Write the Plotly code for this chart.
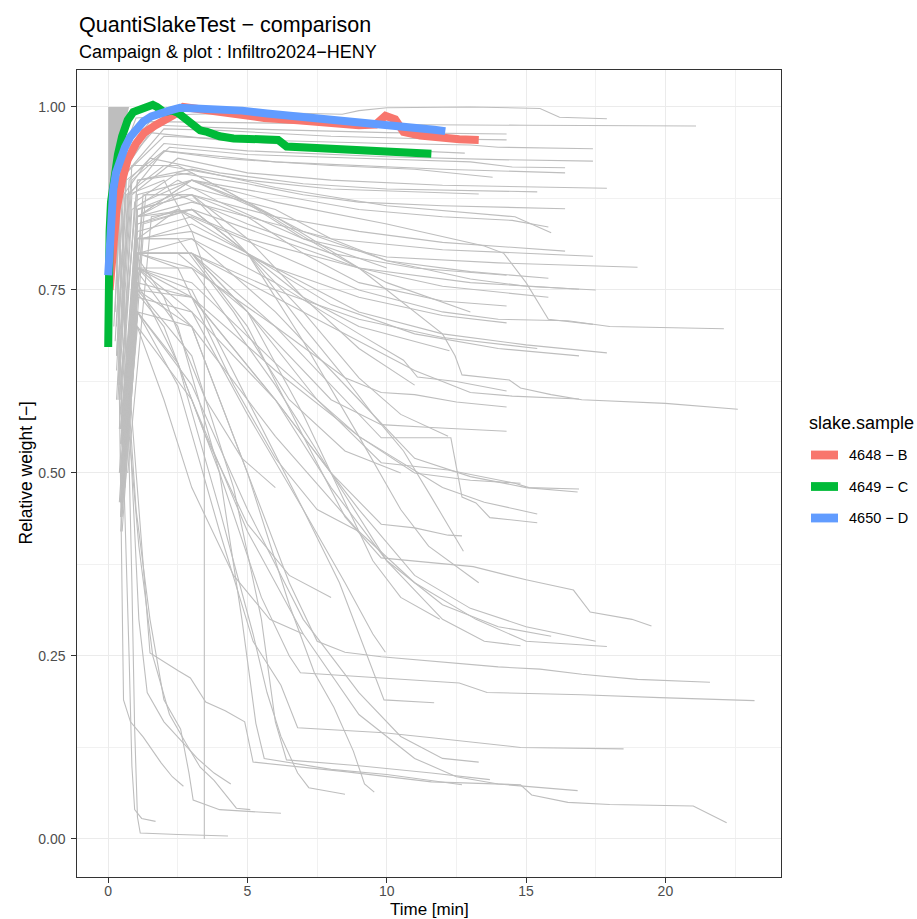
import plotly.graph_objects as go

# ---------------- highlighted samples ----------------
sample_names = ["4648 − B", "4649 − C", "4650 − D"]
sample_colors = ["#F8766D", "#00BA38", "#619CFF"]

t_4648_B = [0.05, 0.15, 0.3, 0.5, 0.7, 1.0, 1.3, 1.7, 2.1, 2.4, 2.7, 3.3, 4.4, 5.6, 6.8, 8.0, 9.0, 9.6, 9.95, 10.3, 10.6, 11.2, 11.9, 12.6, 13.3]
w_4648_B = [0.75, 0.8, 0.86, 0.9, 0.928, 0.95, 0.965, 0.975, 0.982, 0.99, 1.0, 0.997, 0.989, 0.985, 0.982, 0.978, 0.975, 0.976, 0.988, 0.983, 0.966, 0.961, 0.958, 0.956, 0.955]

t_4649_C = [0, 0, 0.05, 0.1, 0.2, 0.35, 0.5, 0.7, 0.9, 1.2, 1.6, 1.75, 2.0, 2.3, 2.5, 2.8, 3.3, 3.55, 4.0, 4.5, 5.2, 6.1, 6.4, 7.6, 8.6, 10.0, 11.6]
w_4649_C = [0.672, 0.77, 0.83, 0.87, 0.905, 0.935, 0.96, 0.982, 0.993, 0.998, 1.003, 1.0, 0.993, 0.995, 0.992, 0.983, 0.968, 0.966, 0.96, 0.957, 0.956, 0.955, 0.946, 0.944, 0.941, 0.938, 0.936]

t_4650_D = [0, 0.03, 0.07, 0.12, 0.18, 0.28, 0.43, 0.6, 0.79, 1.0, 1.26, 1.55, 1.87, 2.2, 2.58, 3.2, 3.9, 4.8, 5.7, 6.6, 7.6, 8.7, 9.8, 10.8, 11.7, 12.1]
w_4650_D = [0.77, 0.80, 0.84, 0.865, 0.887, 0.91, 0.928, 0.945, 0.959, 0.97, 0.98, 0.987, 0.992, 0.995, 0.999, 0.998, 0.997, 0.995, 0.991, 0.988, 0.985, 0.981, 0.978, 0.973, 0.969, 0.967]

# dense overlap zone at the very start (drawn as solid grey)
gray_fill_t = [0, 0, 0.75, 0.6, 0.4, 0.2, 0.08, 0.02]
gray_fill_w = [0.77, 1.0, 1.0, 0.975, 0.95, 0.9, 0.85, 0.8]

# ---------------- other samples of the campaign (grey) ----------------
gray_stable = [
    [(0.2, 0.78), (0.35, 0.92), (1.0, 0.985), (3, 0.99), (6, 0.992), (8.4, 0.99), (9.0, 0.995), (10, 0.999), (13, 1.0), (15.5, 0.998), (16.2, 0.986), (17.9, 0.984)],
    [(0.25, 0.72), (0.45, 0.93), (1.5, 0.98), (5, 0.978), (10, 0.976), (15, 0.975), (21.1, 0.974)],
    [(0.3, 0.7), (0.55, 0.92), (1.8, 0.975), (5, 0.97), (10, 0.965), (14.3, 0.963)],
    [(0.3, 0.66), (0.65, 0.91), (2, 0.97), (4, 0.968), (8, 0.96), (11, 0.957), (14.3, 0.955)],
    [(0.2, 0.7), (0.5, 0.91), (1.5, 0.965), (4, 0.955), (8, 0.945), (12.8, 0.937)],
    [(0.35, 0.68), (0.65, 0.91), (2, 0.96), (5, 0.955), (10, 0.95), (13, 0.948), (14, 0.945), (17.4, 0.943)],
    [(0.4, 0.65), (0.75, 0.9), (2, 0.95), (5, 0.94), (10, 0.932), (14, 0.928), (17.4, 0.926)],
    [(0.4, 0.62), (0.85, 0.9), (2.2, 0.945), (5, 0.935), (9, 0.93), (13, 0.925), (14.5, 0.918), (16.4, 0.917)],
    [(0.35, 0.6), (0.75, 0.88), (2, 0.94), (6, 0.925), (12, 0.915), (16.4, 0.91)],
    [(0.3, 0.66), (0.65, 0.9), (2, 0.94), (4, 0.93), (8, 0.92), (11, 0.915), (13.8, 0.904)],
    [(0.45, 0.6), (0.85, 0.88), (2.5, 0.93), (5, 0.91), (8, 0.9), (12, 0.893), (17.9, 0.889)],
    [(0.25, 0.68), (0.55, 0.88), (1.5, 0.93), (4, 0.91), (7, 0.895), (10, 0.888), (15.4, 0.884)],
    [(0.3, 0.64), (0.65, 0.88), (2, 0.92), (5, 0.9), (8, 0.888), (13.3, 0.881)],
]

gray_upper_mid = [
    [(0.45, 0.58), (0.95, 0.87), (2.5, 0.91), (5, 0.895), (7, 0.88), (9, 0.87), (12, 0.865), (16.4, 0.861)],
    [(0.5, 0.55), (1.05, 0.88), (3, 0.9), (6, 0.88), (9, 0.86), (12, 0.85), (14.5, 0.845), (15.8, 0.836)],
    [(0.4, 0.6), (1.05, 0.9), (3, 0.915), (6, 0.89), (10, 0.865), (13, 0.855), (14.6, 0.85), (15.9, 0.828)],
    [(0.5, 0.56), (1.05, 0.86), (3, 0.88), (6, 0.85), (9, 0.83), (12, 0.815), (16.4, 0.803)],
    [(0.55, 0.5), (1.05, 0.85), (3, 0.87), (5, 0.85), (8, 0.82), (12, 0.805), (17.4, 0.796)],
    [(0.4, 0.56), (0.85, 0.86), (2.5, 0.9), (4, 0.87), (7, 0.82), (10, 0.795), (14, 0.787), (19, 0.781)],
    [(0.45, 0.54), (1.05, 0.85), (2.5, 0.88), (5, 0.84), (8, 0.8), (11, 0.78), (14.3, 0.77)],
    [(0.6, 0.56), (1.25, 0.87), (3, 0.9), (5, 0.87), (7, 0.83), (10, 0.79), (13, 0.775), (15.8, 0.766)],
    [(0.5, 0.5), (1.05, 0.82), (2.5, 0.86), (5, 0.82), (9, 0.78), (13, 0.76), (16.9, 0.751)],
    [(0.45, 0.56), (1.05, 0.86), (3, 0.89), (6, 0.86), (8, 0.82), (10, 0.79), (13, 0.765), (15, 0.755), (17.5, 0.75)],
    [(0.5, 0.54), (1.05, 0.84), (3, 0.86), (6, 0.82), (9, 0.78), (12, 0.755), (15.8, 0.74)],
    [(0.6, 0.56), (1.35, 0.88), (3, 0.88), (5, 0.85), (7, 0.8), (9, 0.76), (12, 0.735), (14.3, 0.728)],
    [(0.4, 0.6), (1.05, 0.9), (3, 0.91), (5, 0.87), (8, 0.8), (10, 0.76), (13, 0.72)],
    [(0.35, 0.62), (0.85, 0.92), (2.5, 0.92), (4.5, 0.88), (7, 0.82), (10, 0.78)],
]

gray_middle = [
    [(0.5, 0.56), (1.05, 0.85), (3, 0.9), (6, 0.87), (10, 0.84), (13.5, 0.81), (14.2, 0.8), (15, 0.76), (15.8, 0.71), (17.4, 0.703)],
    [(0.5, 0.5), (1.05, 0.83), (3, 0.85), (6, 0.8), (9, 0.75), (12, 0.72), (14, 0.71), (16.5, 0.708), (18, 0.7), (22.1, 0.697)],
    [(0.45, 0.56), (1.05, 0.82), (3, 0.83), (6, 0.78), (9, 0.74), (12, 0.715), (14.3, 0.705)],
    [(0.6, 0.48), (1.25, 0.82), (3, 0.84), (6, 0.78), (9, 0.72), (12, 0.69), (15, 0.675), (17.9, 0.664)],
    [(0.45, 0.56), (1.05, 0.84), (2.5, 0.86), (5, 0.8), (8, 0.73), (11, 0.69), (14, 0.67), (16.9, 0.66)],
    [(0.5, 0.5), (1.05, 0.8), (3, 0.8), (6, 0.75), (9, 0.71), (12, 0.685), (15.4, 0.67)],
    [(0.7, 0.5), (1.55, 0.85), (3, 0.86), (5, 0.8), (7, 0.74), (9, 0.7), (12.25, 0.667)],
    [(0.45, 0.54), (1.05, 0.85), (3, 0.9), (6, 0.85), (9, 0.78), (11, 0.72), (12.0, 0.69), (12.45, 0.66), (12.7, 0.634), (14.4, 0.627), (14.8, 0.616), (15.9, 0.607), (17, 0.6), (20, 0.595), (21.5, 0.59), (22.6, 0.587)],
    [(0.5, 0.46), (1.05, 0.8), (3, 0.8), (6, 0.74), (9, 0.68), (11, 0.64), (13, 0.61), (14.5, 0.605), (16.9, 0.601)],
    [(0.5, 0.5), (1.05, 0.8), (3, 0.82), (6, 0.76), (9, 0.69), (10.6, 0.654), (11.1, 0.631), (12.5, 0.625), (14.3, 0.612)],
    [(0.5, 0.46), (1.05, 0.78), (3, 0.78), (6, 0.7), (8.5, 0.63), (9.8, 0.61), (11, 0.607), (12.5, 0.597), (14.3, 0.59)],
    [(0.45, 0.5), (1.05, 0.8), (2.5, 0.8), (5, 0.72), (8, 0.6), (9.8, 0.566), (11.6, 0.562), (14.3, 0.557)],
    [(0.5, 0.55), (1.05, 0.85), (3, 0.86), (5, 0.8), (7, 0.72), (9, 0.63), (10.5, 0.58), (12.2, 0.55)],
    [(0.6, 0.58), (1.25, 0.88), (3, 0.88), (5, 0.82), (7, 0.74), (9, 0.67), (11, 0.62)],
]

gray_lower_mid = [
    [(0.5, 0.46), (1.05, 0.8), (3, 0.8), (5, 0.72), (7.5, 0.6), (9.8, 0.514), (12.2, 0.504), (14.6, 0.486), (15.1, 0.48), (16.9, 0.478)],
    [(0.45, 0.5), (1.05, 0.82), (3, 0.82), (6, 0.72), (9, 0.6), (11, 0.52), (13, 0.495), (15, 0.48), (16.85, 0.474)],
    [(0.5, 0.44), (1.05, 0.75), (3, 0.74), (6, 0.64), (9, 0.55), (11, 0.5), (13, 0.49), (14.8, 0.486)],
    [(0.5, 0.46), (1.05, 0.78), (3, 0.76), (6, 0.65), (9, 0.55), (12, 0.48), (13.5, 0.46), (15.4, 0.444)],
    [(0.45, 0.5), (1.05, 0.8), (3, 0.8), (6, 0.7), (9.8, 0.548), (12.3, 0.548), (12.7, 0.467), (13.2, 0.459), (13.7, 0.439), (15.4, 0.432)],
    [(0.6, 0.52), (1.25, 0.84), (3, 0.86), (5, 0.8), (7, 0.7), (8.5, 0.63), (9.5, 0.58), (10.6, 0.53), (11.6, 0.467), (12.75, 0.393)],
    [(0.45, 0.42), (1.05, 0.74), (3, 0.72), (6, 0.6), (8, 0.5), (9.8, 0.43), (11, 0.425), (12.2, 0.415), (12.7, 0.414)],
    [(0.45, 0.5), (1.05, 0.82), (2.5, 0.82), (4.5, 0.72), (6.5, 0.6), (8.5, 0.53), (10.5, 0.5)],
    [(0.45, 0.5), (1.05, 0.8), (2.5, 0.78), (4.5, 0.62), (6, 0.52), (7.5, 0.45), (9, 0.42)],
    [(0.4, 0.5), (0.95, 0.8), (2, 0.74), (3.5, 0.6), (4.8, 0.52), (6, 0.48)],
    [(0.55, 0.56), (1.05, 0.86), (3, 0.88), (5, 0.8), (7, 0.68), (9, 0.55), (10.5, 0.45), (11.5, 0.4), (13.3, 0.35)],
]

gray_low = [
    [(0.5, 0.46), (1.05, 0.8), (3, 0.8), (5, 0.7), (7, 0.55), (8.5, 0.44), (9.8, 0.384), (13.1, 0.372), (15, 0.354), (16.7, 0.34), (17.3, 0.31), (18.8, 0.3), (19.5, 0.291)],
    [(0.45, 0.48), (1.05, 0.78), (3, 0.74), (6, 0.6), (9, 0.45), (11, 0.36), (13, 0.315), (15, 0.29), (17.5, 0.27)],
    [(0.5, 0.42), (1.05, 0.72), (3, 0.7), (6, 0.55), (9, 0.42), (11, 0.35), (13.2, 0.3), (15, 0.27), (17.9, 0.263)],
    [(0.45, 0.46), (1.05, 0.76), (3, 0.74), (6, 0.6), (8, 0.48), (10, 0.38), (12, 0.32), (14, 0.29), (15.9, 0.277)],
    [(0.5, 0.5), (1.05, 0.8), (3, 0.78), (6, 0.62), (8, 0.5), (10, 0.38), (12, 0.3), (13.5, 0.27), (14.8, 0.264)],
    [(0.45, 0.46), (1.05, 0.78), (3, 0.72), (5, 0.58), (7, 0.45), (8.5, 0.35), (9.5, 0.28), (9.95, 0.255)],
    [(0.5, 0.5), (1.05, 0.78), (3, 0.7), (5, 0.5), (6.5, 0.35), (7.5, 0.27), (8.5, 0.255), (9.8, 0.249), (12, 0.242), (14, 0.235), (15.5, 0.232), (17, 0.225), (19, 0.218), (21.6, 0.214)],
    [(0.45, 0.44), (1.05, 0.72), (2.5, 0.65), (4, 0.5), (5.5, 0.33), (6.5, 0.25), (6.9, 0.227), (9.8, 0.22), (12.6, 0.213), (13.6, 0.2), (17, 0.197), (19.8, 0.193), (23.2, 0.189)],
    [(0.5, 0.48), (1.05, 0.78), (3, 0.75), (5, 0.6), (7, 0.45), (8.3, 0.35), (9.3, 0.25), (9.9, 0.19), (11.7, 0.186)],
    [(0.45, 0.44), (1.05, 0.72), (2.5, 0.62), (4, 0.42), (5.2, 0.27), (6.2, 0.21), (6.8, 0.152), (9.9, 0.145), (11.7, 0.138), (14.8, 0.125), (18.5, 0.123)],
    [(0.45, 0.46), (1.05, 0.72), (3, 0.62), (5, 0.45), (7, 0.3), (9, 0.2), (10.5, 0.14), (12, 0.11), (13.3, 0.105)],
    [(0.55, 0.5), (1.05, 0.8), (3, 0.8), (5, 0.72), (7, 0.58), (8.5, 0.46), (9.5, 0.38), (10.5, 0.33), (11.9, 0.3)],
    [(0.45, 0.46), (0.95, 0.75), (2, 0.7), (3.5, 0.55), (5, 0.43), (6.5, 0.36), (8, 0.33)],
    [(0.4, 0.46), (0.85, 0.72), (2, 0.6), (3, 0.48), (4.5, 0.36), (5.8, 0.3), (7, 0.28)],
]

gray_collapse = [
    [(0.45, 0.44), (1.05, 0.7), (3, 0.6), (5, 0.42), (7, 0.28), (9, 0.17), (11, 0.11), (12.5, 0.085), (14, 0.075), (16.85, 0.066)],
    [(0, 0.82), (0.25, 0.9), (0.6, 0.7), (1.2, 0.4), (1.5, 0.254), (2.5, 0.23), (2.95, 0.22), (3.5, 0.187), (4.2, 0.175), (4.9, 0.16), (5.2, 0.105), (8.5, 0.092), (11.6, 0.078), (14.8, 0.074), (15.2, 0.06), (16.5, 0.05), (18, 0.047), (21, 0.045), (22.2, 0.022)],
    [(0.5, 0.5), (0.95, 0.78), (2.5, 0.7), (4, 0.5), (4.8, 0.3), (5.3, 0.158), (5.6, 0.11), (8, 0.095), (10, 0.088), (12.7, 0.074)],
    [(0.45, 0.48), (1.05, 0.75), (3, 0.66), (4.5, 0.48), (5.5, 0.3), (6.0, 0.16), (6.4, 0.108), (9, 0.1), (11.6, 0.09), (13.7, 0.081)],
    [(0.5, 0.5), (1.05, 0.75), (3, 0.7), (5, 0.5), (6.5, 0.32), (7.4, 0.227), (8.1, 0.18), (8.8, 0.12), (9.2, 0.075), (9.55, 0.064)],
    [(0.45, 0.5), (1.05, 0.76), (2.5, 0.65), (4, 0.45), (5.2, 0.28), (5.7, 0.2), (6.2, 0.14), (6.8, 0.09), (7.2, 0.07), (8.5, 0.061)],
    [(0, 0.85), (0.3, 0.9), (0.7, 0.62), (1.0, 0.45), (1.5, 0.3), (2.0, 0.19), (2.6, 0.15), (2.9, 0.09), (3.05, 0.053), (4.0, 0.04), (6.2, 0.035)],
    [(0, 0.8), (0.3, 0.88), (0.6, 0.62), (1.1, 0.4), (1.6, 0.25), (2.2, 0.17), (2.8, 0.13), (3.3, 0.098), (3.8, 0.08), (4.6, 0.042), (5.1, 0.04)],
    [(0, 0.78), (0.3, 0.88), (0.6, 0.7), (0.9, 0.45), (1.1, 0.3), (1.4, 0.2), (2.0, 0.16), (2.6, 0.135), (3.2, 0.11), (3.8, 0.09), (4.4, 0.075)],
    [(0, 0.8), (0.2, 0.9), (0.35, 0.75), (0.45, 0.5), (0.52, 0.3), (0.55, 0.19), (0.8, 0.16), (1.26, 0.139), (1.9, 0.104), (2.3, 0.085), (2.7, 0.072)],
    [(0, 0.75), (0.2, 0.88), (0.4, 0.7), (0.6, 0.45), (0.75, 0.25), (0.85, 0.1), (0.95, 0.04), (1.2, 0.028), (1.7, 0.024)],
    [(0, 0.8), (0.2, 0.92), (0.5, 0.85), (0.7, 0.6), (0.85, 0.35), (0.95, 0.15), (1.05, 0.03), (1.15, 0.008), (2.5, 0.006), (4.3, 0.004)],
    [(0.3, 0.6), (0.7, 0.88), (2, 0.9), (3, 0.83), (3.45, 0.78), (3.45, 0.0)],
]

x_tick_vals = [0, 5, 10, 15, 20]
y_tick_vals = [0, 0.25, 0.5, 0.75, 1.0]
y_tick_text = ["0.00", "0.25", "0.50", "0.75", "1.00"]

# ---------------- figure ----------------
GREY = "#BEBEBE"
W, H = 917, 919
L, R, T, B = 77, 781, 70, 877
PW, PH = R - L, B - T


def px_x(px):
    return (px - L) / PW


def px_y(py):
    return 1 - (py - T) / PH


fig = go.Figure()

fig.add_trace(go.Scatter(x=gray_fill_t, y=gray_fill_w, fill="toself", fillcolor=GREY,
                         mode="lines", line=dict(width=0, color=GREY), hoverinfo="skip", showlegend=False))

gx, gy = [], []
for group in (gray_stable, gray_upper_mid, gray_middle, gray_lower_mid, gray_low, gray_collapse):
    for curve in group:
        gx += [p[0] for p in curve] + [None]
        gy += [p[1] for p in curve] + [None]
fig.add_trace(go.Scatter(x=gx, y=gy, mode="lines", line=dict(color=GREY, width=1.1),
                         connectgaps=False, hoverinfo="skip", showlegend=False))

series = [(t_4648_B, w_4648_B), (t_4649_C, w_4649_C), (t_4650_D, w_4650_D)]
for (tt, ww), name, col in zip(series, sample_names, sample_colors):
    fig.add_trace(go.Scatter(x=tt, y=ww, mode="lines", name=name,
                             line=dict(color=col, width=8), showlegend=False))

axis_common = dict(
    ticks="outside", ticklen=4.5, tickwidth=1.1, tickcolor="#333333",
    tickfont=dict(size=14, color="#4D4D4D"),
    showgrid=True, gridcolor="#EBEBEB", gridwidth=1.2,
    zeroline=False, showline=True, mirror=True, linecolor="#333333", linewidth=1.3,
)
fig.update_xaxes(range=[-1.12, 24.15], tickvals=x_tick_vals, ticklabelstandoff=-3,
                 minor=dict(dtick=2.5, tick0=0, showgrid=True, gridcolor="#F1F1F1", gridwidth=0.7, ticks=""),
                 **axis_common)
fig.update_yaxes(range=[-0.052, 1.0505], tickvals=y_tick_vals, ticktext=y_tick_text, ticklabelstandoff=3,
                 minor=dict(dtick=0.125, tick0=0, showgrid=True, gridcolor="#F1F1F1", gridwidth=0.7, ticks=""),
                 **axis_common)

annotations = [
    dict(text="QuantiSlakeTest − comparison", x=0, y=px_y(25), xanchor="left", yanchor="middle",
         font=dict(size=21.5, color="#000000")),
    dict(text="Campaign & plot : Infiltro2024−HENY", x=0, y=px_y(52), xanchor="left", yanchor="middle",
         font=dict(size=18, color="#000000")),
    dict(text="Time [min]", x=0.5, y=px_y(909), xanchor="center", yanchor="middle",
         font=dict(size=17, color="#000000")),
    dict(text="Relative weight [−]", x=px_x(25), y=0.5, xanchor="center", yanchor="middle",
         textangle=-90, font=dict(size=17.5, color="#000000")),
    dict(text="slake.sample", x=px_x(807), y=px_y(423), xanchor="left", yanchor="middle",
         font=dict(size=18, color="#000000")),
]
shapes = []
for i, (name, col) in enumerate(zip(sample_names, sample_colors)):
    yc = 455 + i * 31.5
    shapes.append(dict(type="rect", xref="paper", yref="paper",
                       x0=px_x(811), x1=px_x(838), y0=px_y(yc + 4.4), y1=px_y(yc - 4.4),
                       fillcolor=col, line=dict(width=0)))
    annotations.append(dict(text=name, x=px_x(847), y=px_y(yc), xanchor="left", yanchor="middle",
                            font=dict(size=14.5, color="#000000")))
for a in annotations:
    a.update(xref="paper", yref="paper", showarrow=False)

fig.update_layout(
    width=W, height=H,
    margin=dict(l=L, r=W - R, t=T, b=H - B, pad=0),
    paper_bgcolor="white", plot_bgcolor="white",
    font=dict(family="Liberation Sans, Arial, sans-serif", color="#000000"),
    showlegend=False,
    annotations=annotations, shapes=shapes,
)

fig.write_html("out.html", config={"displayModeBar": False},
               post_script="document.body.style.margin='0';document.body.style.padding='0';")
